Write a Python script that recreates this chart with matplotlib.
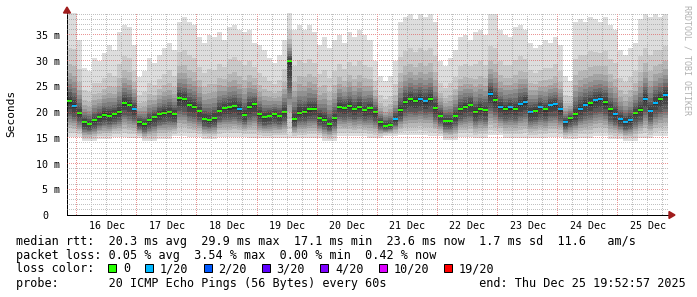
import numpy as np
import matplotlib
matplotlib.use("Agg")
import matplotlib.pyplot as plt
from matplotlib.patches import Rectangle, Polygon

W, H = 697, 297
MONO = "DejaVu Sans Mono"

# time axis in hours since 15 Dec 00:00, data in 2 h bins
START_H = 20.1
BIN_H = 2.0
SPAN_H = 240.0
Y_TOP = 39.25

# median rtt per 2 h bin (ms)
median_ms = [
    22.1, 21.2, 19.8, 18.0, 17.7, 18.4, 19.0, 19.5, 19.3, 19.6,
    20.1, 21.8, 21.4, 20.6, 18.0, 17.6, 18.4, 19.0, 19.6, 19.9,
    20.0, 19.6, 22.8, 22.5, 21.4, 21.0, 20.2, 18.7, 18.4, 18.8,
    20.3, 20.8, 20.9, 21.1, 20.6, 19.5, 21.0, 21.5, 19.6, 19.0,
    19.3, 19.6, 19.2, 20.0, 29.9, 18.6, 19.9, 20.0, 20.5, 20.6,
    18.9, 18.5, 17.6, 18.8, 21.0, 20.8, 21.2, 20.6, 21.0, 20.4,
    20.8, 20.0, 18.0, 17.3, 17.5, 18.6, 20.4, 22.0, 22.5, 22.2,
    22.6, 22.1, 22.6, 20.8, 19.3, 18.3, 18.2, 19.2, 20.6, 21.0,
    21.4, 20.0, 20.6, 20.4, 23.5, 22.4, 21.0, 20.6, 20.9, 20.6,
    21.5, 22.0, 20.0, 20.3, 21.0, 20.5, 21.4, 21.5, 20.5, 18.0,
    18.8, 19.6, 20.6, 21.4, 21.7, 22.3, 22.6, 22.0, 20.5, 19.6,
    18.6, 18.0, 18.4, 19.8, 20.4, 22.6, 20.2, 21.8, 22.6, 23.4,
]

# slowest ping per 2 h bin (ms), top of the smoke
top_ms = [
    39.5, 39.5, 34.0, 28.5, 28.0, 30.5, 30.0, 31.5, 33.0, 32.0,
    35.5, 37.0, 36.5, 33.0, 26.8, 28.0, 30.5, 29.5, 31.0, 32.5,
    33.5, 32.0, 37.5, 38.5, 37.5, 37.0, 34.5, 33.5, 35.0, 34.5,
    35.5, 34.0, 36.5, 37.0, 36.0, 35.5, 36.0, 33.5, 33.0, 32.0,
    30.5, 29.5, 31.0, 34.0, 40.0, 36.0, 37.0, 36.0, 37.0, 35.5,
    33.0, 34.5, 32.5, 34.0, 35.0, 33.5, 35.5, 34.5, 36.0, 35.0,
    34.0, 30.0, 27.0, 26.0, 27.0, 30.0, 37.5, 38.5, 39.0, 38.0,
    39.0, 38.5, 39.0, 37.5, 30.0, 29.0, 30.5, 32.0, 34.5, 35.0,
    34.0, 35.5, 36.0, 35.0, 39.0, 39.0, 36.0, 35.0, 34.5, 36.5,
    37.0, 36.0, 33.5, 32.5, 33.0, 34.0, 33.5, 34.5, 33.0, 27.0,
    26.0, 37.5, 38.0, 37.5, 38.5, 38.0, 37.5, 38.5, 37.0, 36.0,
    32.0, 31.0, 32.5, 33.5, 38.0, 39.0, 38.5, 39.0, 38.5, 39.0,
]

# fastest ping per 6 h block (ms), bottom of the smoke
low_ms_6h = [
    15.2, 14.3, 14.8, 15.2, 15.0, 14.3, 14.8, 15.3, 15.2, 14.8,
    15.2, 15.2, 15.0, 14.9, 15.0, 15.0, 15.0, 14.4, 15.3, 15.3,
    15.0, 15.4, 15.5, 15.6, 15.3, 14.6, 15.2, 15.0, 15.5, 15.0,
    15.0, 15.0, 15.2, 14.8, 15.0, 15.3, 14.8, 14.4, 15.0, 15.4,
]

# lost pings out of 20 per bin
loss_20 = [
    0, 1, 0, 0, 0, 0, 0, 0, 0, 0, 0, 0, 0, 1, 0, 0, 0, 0, 0, 0,
    0, 0, 0, 0, 0, 0, 0, 0, 0, 0, 0, 0, 0, 0, 1, 0, 0, 0, 0, 0,
    0, 0, 0, 0, 0, 0, 0, 0, 0, 0, 0, 0, 0, 0, 0, 0, 0, 0, 0, 0,
    0, 0, 0, 0, 0, 1, 0, 0, 0, 0, 1, 1, 0, 0, 0, 0, 0, 0, 0, 0,
    0, 0, 0, 0, 1, 0, 1, 0, 1, 0, 1, 1, 1, 0, 1, 0, 1, 1, 1, 1,
    0, 0, 1, 1, 0, 1, 1, 0, 0, 1, 1, 1, 1, 0, 0, 1, 1, 1, 0, 1,
]

day_labels = ["16 Dec", "17 Dec", "18 Dec", "19 Dec", "20 Dec",
              "21 Dec", "22 Dec", "23 Dec", "24 Dec", "25 Dec"]
ytick_vals = [0, 5, 10, 15, 20, 25, 30, 35]
ytick_labels = ["0", "5 m", "10 m", "15 m", "20 m", "25 m", "30 m", "35 m"]

loss_steps = [0, 1, 2, 3, 4, 10, 19]
loss_labels = ["0", "1/20", "2/20", "3/20", "4/20", "10/20", "19/20"]
loss_colors = ["#26ff00", "#00b8ff", "#0059ff", "#5e00ff",
               "#7e00ff", "#dd00ff", "#ff0000"]

line_rtt = "median rtt:  20.3 ms avg  29.9 ms max  17.1 ms min  23.6 ms now  1.7 ms sd  11.6   am/s"
line_loss = "packet loss: 0.05 % avg  3.54 % max  0.00 % min  0.42 % now"
line_color = "loss color:"
line_probe = "probe:       20 ICMP Echo Pings (56 Bytes) every 60s             end: Thu Dec 25 19:52:57 2025"


def fx(x):
    return x / W


def fy(y):
    return 1 - y / H


med = np.array(median_ms)
top = np.array(top_ms)
low = np.repeat(low_ms_6h, 3)
x0 = START_H + BIN_H * np.arange(len(med))

# where the sorted pings sit, as a share of the way from median to min / max
lower_frac = np.array([1.0, 0.88, 0.76, 0.66, 0.57, 0.49, 0.42, 0.35, 0.22, 0.08])
upper_frac = np.array([1.0, 0.6, 0.42, 0.32, 0.25, 0.19, 0.14, 0.10, 0.06, 0.02])
lower = med[None, :] - (med - low)[None, :] * lower_frac[:, None]
upper = med[None, :] + (top - med)[None, :] * upper_frac[:, None]

AX_L, AX_R, AX_T, AX_B = 67, 668, 13, 215
fig = plt.figure(figsize=(W / 100, H / 100), dpi=100, facecolor="white")
ax = fig.add_axes([fx(AX_L), fy(AX_B), fx(AX_R) - fx(AX_L), fy(AX_T) - fy(AX_B)])
ax.set_facecolor("white")

for k in range(10):
    g = (221 - 19 * k) / 255
    ax.bar(x0, upper[k] - lower[k], bottom=lower[k], width=BIN_H, align="edge",
           color=(g, g, g), linewidth=0, antialiased=False, zorder=1)


def loss_color(n):
    c = loss_colors[0]
    for step, col in zip(loss_steps, loss_colors):
        if n >= step:
            c = col
    return c


ax.hlines(med, x0, x0 + BIN_H, colors=[loss_color(n) for n in loss_20],
          lw=1.5, zorder=4)

ax.set_xlim(START_H, START_H + SPAN_H)
ax.set_ylim(0, Y_TOP)

# pixel-exact dotted grid, laid over the smoke like rrdtool does
pw, ph = AX_R - AX_L, AX_B - AX_T
grid = np.zeros((ph, pw, 4))
major_c = (0.87, 0.31, 0.31, 0.6)
minor_c = (0.56, 0.56, 0.56, 0.55)
for v in range(1, 40):
    row = int((Y_TOP - v) / Y_TOP * ph)
    if 0 <= row < ph:
        grid[row, ::2] = major_c if v % 5 == 0 else minor_c
for h in range(24, 261, 6):
    col = int((h - START_H) / SPAN_H * pw)
    if 0 <= col < pw:
        grid[1::2, col] = major_c if h % 24 == 0 else minor_c
fig.figimage(grid, xo=AX_L, yo=H - AX_B, origin="upper", zorder=1)

ax.set_xticks([])
ax.set_yticks([])
for s in ["top", "right"]:
    ax.spines[s].set_visible(False)
for s in ["left", "bottom"]:
    ax.spines[s].set_linewidth(0.72)
    ax.spines[s].set_color("black")

# day labels sit at noon
for k, lab in enumerate(day_labels):
    ax.annotate(lab, xy=(24 * (k + 1) + 12, 0), xycoords=("data", "axes fraction"),
                xytext=(0, -9.8), textcoords="offset points", ha="center",
                va="baseline", family=MONO, fontsize=7.2, annotation_clip=False)

for v, lab in zip(ytick_vals, ytick_labels):
    off = -4.7 if v else -13.3
    ax.annotate(lab, xy=(0, v), xycoords=("axes fraction", "data"),
                xytext=(off, 0), textcoords="offset points", ha="right",
                va="center_baseline", family=MONO, fontsize=7.2,
                annotation_clip=False)

fig.text(fx(11), fy(113.5), "Seconds", rotation=90, ha="center", va="center",
         family=MONO, fontsize=8.0)
fig.text(fx(687.5), fy(60), "RRDTOOL / TOBI OETIKER", rotation=270, ha="center",
         va="center", family=MONO, fontsize=6.0, color="#b0b0b0")

# axis arrows
arrow_col = "#a01c1c"
fig.patches.append(Polygon([(fx(67), fy(7)), (fx(63.5), fy(13)), (fx(70.5), fy(13))],
                           closed=True, transform=fig.transFigure, color=arrow_col))
fig.patches.append(Polygon([(fx(675), fy(215)), (fx(669), fy(211.5)), (fx(669), fy(218.5))],
                           closed=True, transform=fig.transFigure, color=arrow_col))

# legend block
LEG = 8.48
for txt, base in [(line_rtt, 245), (line_loss, 259.3), (line_color, 272.5), (line_probe, 286.7)]:
    fig.text(fx(15.5), fy(base), txt, ha="left", va="baseline", family=MONO, fontsize=LEG)

char_w = 7.09
bx = 108.3
for lab, col in zip(loss_labels, loss_colors):
    fig.patches.append(Rectangle((fx(bx), fy(271.7)), fx(8), 8 / H, transform=fig.transFigure,
                                 facecolor=col, edgecolor="black", lw=0.72))
    fig.text(fx(bx + 14.5), fy(272.5), lab, ha="left", va="baseline",
             family=MONO, fontsize=LEG)
    bx += 15 + len(lab) * char_w + 15

fig.savefig("out.png", dpi=100, facecolor="white")
